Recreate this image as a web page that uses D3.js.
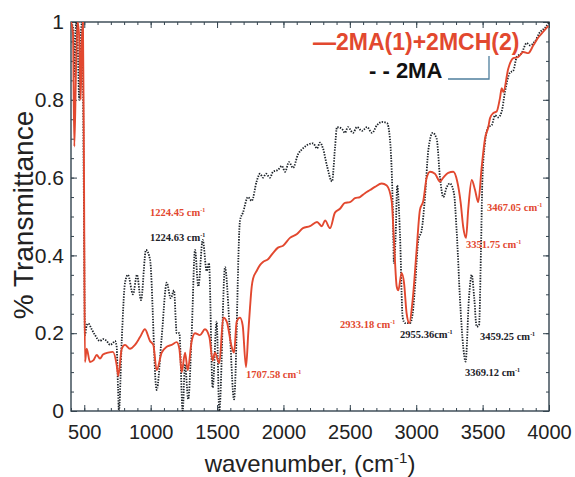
<!DOCTYPE html>
<html><head><meta charset="utf-8">
<script src="https://cdn.jsdelivr.net/npm/d3@7"></script>
<style>body{margin:0;background:#fff}svg{display:block}</style>
</head><body>
<svg id="chart" width="575" height="477"></svg>
<script>
// ---- data ----
const xTicks = [500, 1000, 1500, 2000, 2500, 3000, 3500, 4000];
const yTicks = [0, 0.2, 0.4, 0.6, 0.8, 1];
const yTickLabels = ["0", "0.2", "0.4", "0.6", "0.8", "1"];
const seriesNames = ["2MA(1)+2MCH(2)", "2MA"];

// 2MA(1)+2MCH(2) (red solid)
const mixWave = [400,415,425,438,450,462,473,480,490,498,505,518,543,568,594,618,641,679,716,744,756,782,807,844,882,920,957,995,1020,1045,1083,1121,1158,1196,1216,1234,1259,1279,1309,1334,1371,1409,1442,1467,1484,1517,1547,1573,1610,1628,1648,1673,1693,1718,1735,1748,1761,1771,1798,1823,1846,1884,1921,1959,1997,2049,2102,2147,2200,2253,2290,2313,2351,2388,2426,2463,2501,2539,2576,2614,2652,2689,2740,2778,2815,2832,2853,2865,2890,2908,2928,2948,2973,3003,3028,3053,3079,3104,3141,3179,3204,3241,3279,3309,3335,3354,3375,3392,3418,3443,3467,3493,3518,3543,3556,3581,3606,3631,3644,3656,3693,3731,3769,3807,3844,3882,3919,3957,3995];
const mixT = [1.0,0.97,0.68,0.88,1.0,0.96,0.80,0.93,1.0,0.6,0.126,0.16,0.126,0.13,0.144,0.135,0.145,0.15,0.152,0.118,0.09,0.16,0.17,0.16,0.17,0.19,0.21,0.18,0.17,0.105,0.15,0.165,0.17,0.177,0.16,0.10,0.15,0.105,0.18,0.2,0.195,0.21,0.19,0.13,0.15,0.123,0.24,0.23,0.165,0.15,0.23,0.24,0.22,0.113,0.2,0.265,0.32,0.34,0.36,0.375,0.383,0.39,0.406,0.42,0.425,0.445,0.455,0.47,0.475,0.486,0.475,0.49,0.47,0.51,0.52,0.535,0.537,0.547,0.55,0.56,0.568,0.576,0.585,0.58,0.54,0.44,0.32,0.31,0.355,0.33,0.25,0.226,0.285,0.414,0.517,0.54,0.60,0.615,0.61,0.59,0.60,0.612,0.615,0.59,0.535,0.473,0.445,0.52,0.594,0.568,0.537,0.627,0.70,0.73,0.753,0.766,0.77,0.805,0.83,0.82,0.88,0.907,0.91,0.923,0.92,0.94,0.96,0.975,0.99];

// 2MA (black dotted)
const maWave = [400,418,428,438,450,462,472,485,497,505,518,530,556,581,618,641,669,694,716,731,744,754,761,782,807,829,867,897,927,965,995,1045,1083,1121,1151,1176,1196,1216,1241,1259,1283,1309,1334,1359,1392,1422,1439,1467,1497,1517,1560,1592,1628,1673,1695,1733,1761,1798,1823,1846,1869,1899,1921,1959,1989,2012,2042,2072,2110,2147,2185,2223,2253,2275,2298,2328,2366,2388,2403,2441,2463,2486,2524,2554,2592,2629,2667,2705,2742,2780,2802,2825,2832,2845,2857,2878,2898,2915,2953,2973,2991,3016,3041,3066,3091,3124,3154,3179,3204,3229,3254,3284,3305,3330,3354,3372,3397,3418,3437,3455,3473,3488,3498,3518,3543,3569,3593,3618,3644,3668,3706,3731,3757,3794,3832,3857,3894,3932,3970,4000];
const maT = [1.0,0.98,0.86,1.0,0.95,0.80,0.96,1.0,0.55,0.195,0.22,0.225,0.21,0.195,0.18,0.185,0.18,0.17,0.175,0.18,0.165,0.06,0.0,0.18,0.33,0.35,0.30,0.35,0.285,0.414,0.39,0.054,0.19,0.33,0.29,0.31,0.2,0.2,0.0,0.12,0.03,0.2,0.414,0.32,0.44,0.36,0.38,0.06,0.23,0.0,0.37,0.23,0.03,0.49,0.51,0.55,0.54,0.59,0.61,0.60,0.61,0.60,0.615,0.62,0.63,0.615,0.64,0.625,0.66,0.675,0.685,0.688,0.675,0.69,0.675,0.63,0.59,0.675,0.73,0.725,0.715,0.73,0.715,0.73,0.72,0.73,0.715,0.735,0.743,0.74,0.70,0.50,0.38,0.45,0.58,0.45,0.24,0.226,0.226,0.25,0.32,0.44,0.465,0.55,0.67,0.715,0.70,0.60,0.55,0.575,0.585,0.56,0.46,0.285,0.165,0.127,0.29,0.35,0.29,0.217,0.22,0.42,0.59,0.69,0.73,0.735,0.76,0.755,0.77,0.82,0.87,0.875,0.91,0.92,0.946,0.94,0.95,0.974,0.985,1.0];

// peak annotations: label, series index, anchor (wavenumber, transmittance)
const peakLabels = ["1224.45", "1224.63", "1707.58", "2933.18", "2955.36", "3459.25", "3369.12", "3351.75", "3467.05"];
const peakUnitSpace = [true, true, true, true, false, true, true, true, true];
const peakSeries = [0, 1, 0, 0, 1, 1, 1, 0, 0];
const peakAnchorW = [995, 995, 1718, 2426, 2878, 3480, 3367, 3375, 3533];
const peakAnchorT = [0.501, 0.437, 0.085, 0.213, 0.188, 0.183, 0.09, 0.419, 0.514];

// ---- layout ----
const W = 575, H = 477;
const m = {left: 71, right: 26, top: 22, bottom: 66};
const iw = W - m.left - m.right, ih = H - m.top - m.bottom;
const RED = "#e2482f", BLACK = "#1c2228", FRAME = "#34444f";

const svg = d3.select("#chart");
const g = svg.append("g").attr("transform", `translate(${m.left},${m.top})`);
const x = d3.scaleLinear().domain([400, 4000]).range([0, iw]);
const y = d3.scaleLinear().domain([0, 1]).range([ih, 0]);

svg.append("defs").append("clipPath").attr("id", "clip")
  .append("rect").attr("width", iw).attr("height", ih);

// axes (ticks inward)
const minorX = d3.range(400, 4001, 100);
const minorY = d3.range(0, 1.0001, 0.05);
function tickAxis(axisGen, cls, tr) {
  const a = g.append("g").attr("class", cls).attr("transform", tr).call(axisGen);
  a.select(".domain").remove();
  a.selectAll("line").attr("stroke", FRAME).attr("stroke-width", 1);
  return a;
}
tickAxis(d3.axisBottom(x).tickValues(minorX).tickSize(-3).tickFormat(""), "mxb", `translate(0,${ih})`);
tickAxis(d3.axisTop(x).tickValues(minorX).tickSize(-3).tickFormat(""), "mxt", "translate(0,0)");
tickAxis(d3.axisLeft(y).tickValues(minorY).tickSize(-3).tickFormat(""), "myl", "translate(0,0)");
tickAxis(d3.axisRight(y).tickValues(minorY).tickSize(-3).tickFormat(""), "myr", `translate(${iw},0)`);

const xa = tickAxis(d3.axisBottom(x).tickValues(xTicks).tickSize(-6).tickPadding(14).tickFormat(d3.format("d")), "xb", `translate(0,${ih})`);
xa.selectAll("text").attr("font-family", "'Liberation Sans', Arial, sans-serif").attr("font-size", 20).attr("fill", "#222");
tickAxis(d3.axisTop(x).tickValues(xTicks).tickSize(-6).tickFormat(""), "xt", "translate(0,0)");
const ya = tickAxis(d3.axisLeft(y).tickValues(yTicks).tickSize(-6).tickPadding(7).tickFormat((d, i) => yTickLabels[i]), "yl", "translate(0,0)");
ya.selectAll("text").attr("font-family", "'Liberation Sans', Arial, sans-serif").attr("font-size", 21).attr("fill", "#222");
tickAxis(d3.axisRight(y).tickValues(yTicks).tickSize(-6).tickFormat(""), "yr", `translate(${iw},0)`);

// frame
g.append("rect").attr("width", iw).attr("height", ih).attr("fill", "none")
  .attr("stroke", FRAME).attr("stroke-width", 1.4);

// lines
const line = d3.line().x(d => x(d[0])).y(d => y(d[1])).curve(d3.curveMonotoneX);
const mixData = mixWave.map((w, i) => [w, mixT[i]]);
const maData = maWave.map((w, i) => [w, maT[i]]);
const lines = g.append("g").attr("clip-path", "url(#clip)");
lines.append("path").datum(maData).attr("d", line).attr("fill", "none")
  .attr("stroke", BLACK).attr("stroke-width", 1.8).attr("stroke-dasharray", "1.4,1.3");
lines.append("path").datum(mixData).attr("d", line).attr("fill", "none")
  .attr("stroke", RED).attr("stroke-width", 1.9);

// peak annotations
const ann = g.append("g").attr("font-family", "'Liberation Serif', 'Times New Roman', serif")
  .attr("font-weight", "bold").attr("font-size", 10.5);
peakLabels.forEach((lab, i) => {
  const t = ann.append("text").attr("x", x(peakAnchorW[i])).attr("y", y(peakAnchorT[i]))
    .attr("fill", peakSeries[i] === 0 ? RED : BLACK);
  t.append("tspan").text(lab + (peakUnitSpace[i] ? " cm" : "cm"));
  t.append("tspan").attr("dy", -4).attr("font-size", 6).text("-1");
});

// legend
const leg = svg.append("g").attr("font-family", "'Liberation Sans', Arial, sans-serif").attr("font-weight", "bold");
leg.append("text").attr("x", 313).attr("y", 50).attr("font-size", 23).attr("fill", RED)
  .text("\u2014" + seriesNames[0]);
leg.append("text").attr("x", 369).attr("y", 78).attr("font-size", 22).attr("fill", "#111")
  .text("- - " + seriesNames[1]);
leg.append("path").attr("d", "M448,79 H489 V56").attr("fill", "none")
  .attr("stroke", "#4f7f9d").attr("stroke-width", 1.3);

// titles
svg.append("text").attr("x", 310).attr("y", 472).attr("text-anchor", "middle")
  .attr("font-family", "'Liberation Sans', Arial, sans-serif").attr("font-size", 24).attr("fill", "#222")
  .call(t => {
    t.append("tspan").text("wavenumber, (cm");
    t.append("tspan").attr("dy", -9).attr("font-size", 15).text("-1");
    t.append("tspan").attr("dy", 9).text(")");
  });
svg.append("text").attr("transform", "translate(33,215) rotate(-90)").attr("text-anchor", "middle")
  .attr("font-family", "'Liberation Sans', Arial, sans-serif").attr("font-size", 28).attr("fill", "#222")
  .text("% Transmittance");
</script>
</body></html>
